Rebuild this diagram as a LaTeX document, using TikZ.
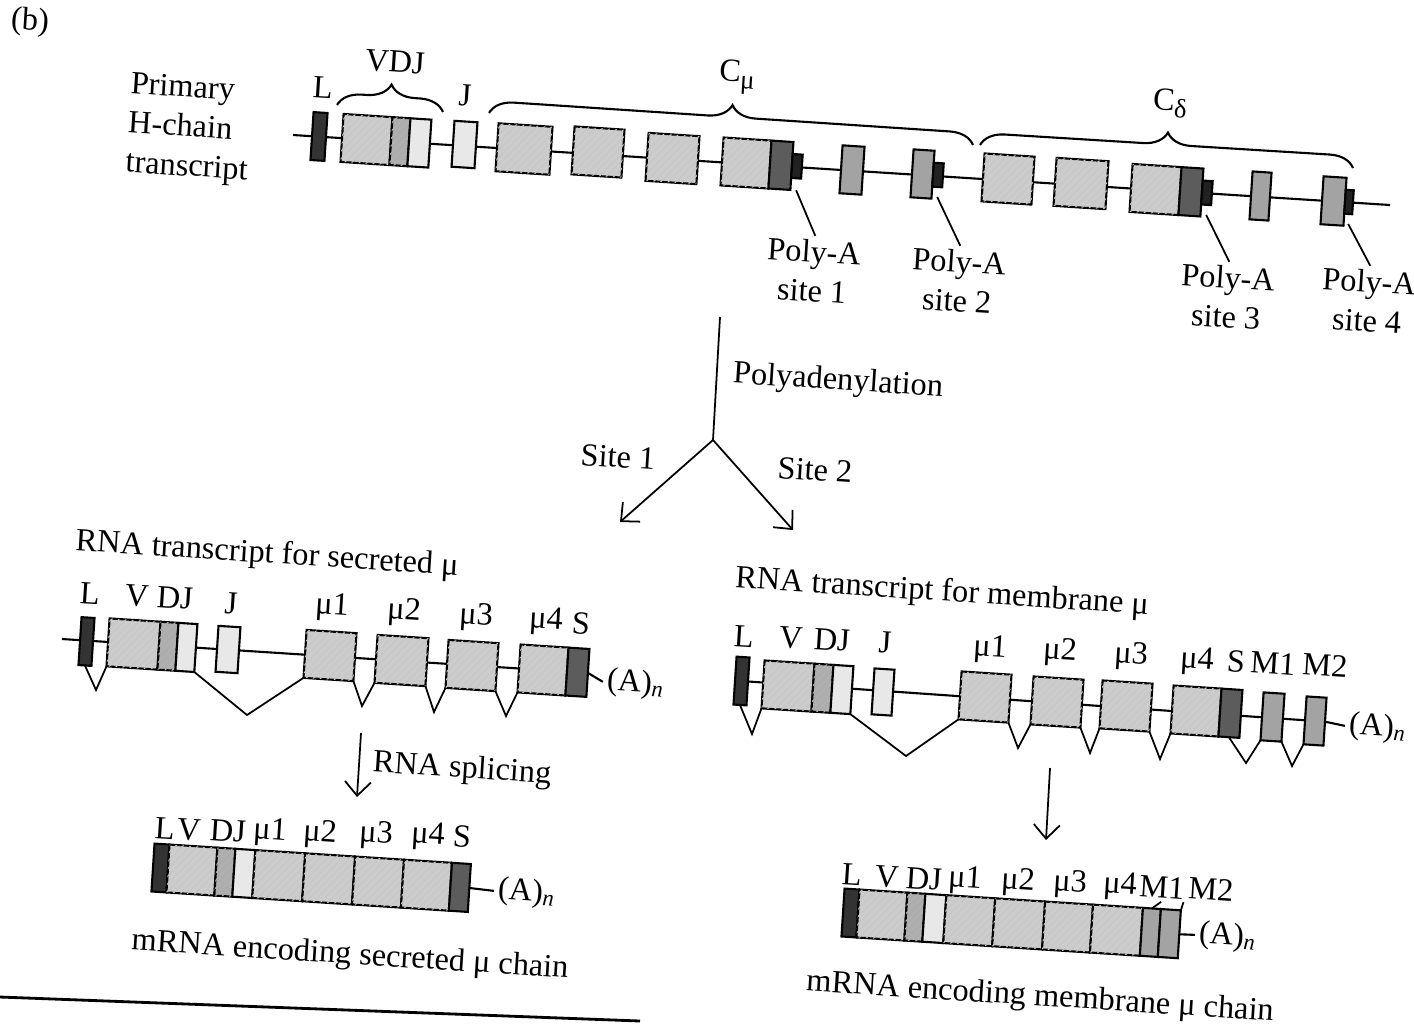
\documentclass[tikz,border=0pt]{standalone}
\usepackage{fontspec}
\setmainfont{Liberation Serif}
\usetikzlibrary{arrows.meta,decorations.pathreplacing,patterns.meta,backgrounds}

\definecolor{exgrey}{gray}{0.80}
\definecolor{dgrey}{gray}{0.68}
\definecolor{jgrey}{gray}{0.91}
\definecolor{lgrey}{gray}{0.20}
\definecolor{sgrey}{gray}{0.36}
\definecolor{mgrey}{gray}{0.64}
\definecolor{pgrey}{gray}{0.13}

\newcommand{\lowsub}[1]{\raisebox{-0.45ex}{\fontsize{7.6}{8}\selectfont #1}}

\tikzset{
  exon/.style={draw, line width=0.6pt, inner sep=0pt, outer sep=0pt, rotate=-3.7,
    minimum width=#1, minimum height=4.8mm},
  vbox/.style={exon=#1, fill=exgrey,
    postaction={pattern={Lines[angle=45,distance=1.5pt,line width=0.3pt]}, pattern color=black!22}},
  dbox/.style={exon=#1, fill=dgrey,
    postaction={pattern={Lines[angle=45,distance=1.5pt,line width=0.3pt]}, pattern color=black!30}},
  jbox/.style={exon=#1, fill=jgrey},
  lbox/.style={exon=#1, fill=lgrey},
  sbox/.style={exon=#1, fill=sgrey},
  mbox/.style={exon=#1, fill=mgrey},
  pabox/.style={exon=1mm, fill=pgrey, minimum height=2.4mm},
  lbl/.style={rotate=-3.7, inner sep=1pt},
  splice/.style={line width=0.5pt},
  brc/.style={decorate, decoration={brace, amplitude=2.4mm}, line width=0.6pt},
  arr/.style={-{Straight Barb[length=1.4mm,width=2.6mm]}, line width=0.5pt}
}

\begin{document}
\begin{tikzpicture}[x=0.1mm, y=-0.1mm, font=\fontsize{9.2}{11.2}\selectfont]
\useasboundingbox (0,0) rectangle (1414,1029);

% primary transcript
\node[lbl] (b) at (30,22) {(b)};
\node[lbl, align=left, anchor=west] (prim) at (124,125) {Primary\\H-chain\\transcript};
\coordinate (ps) at (293,135);
\coordinate (pe) at (1390,205);
\node[lbox=1.4mm] (pL) at (319,136.5) {};
\node[vbox=4.9mm] (pV) at (366.5,139.5) {};
\node[dbox=1.8mm, anchor=west] (pD) at (pV.east) {};
\node[jbox=2.1mm, anchor=west] (pJ) at (pD.east) {};
\node[jbox=2.3mm, minimum height=4.6mm] (pJx) at (464.5,144.5) {};
\node[vbox=5.4mm] (pmu1) at (524,149) {};
\node[vbox=5mm] (pmu2) at (598,152) {};
\node[vbox=5.1mm] (pmu3) at (672.5,158.5) {};
\node[vbox=4.8mm] (pmu4) at (746,163) {};
\node[sbox=2.2mm, anchor=west] (pmuS) at (pmu4.east) {};
\node[pabox, anchor=west] (pa1) at (pmuS.east) {};
\node[mbox=2.2mm] (pmuM1) at (852,170) {};
\node[mbox=2.1mm] (pmuM2) at (922.5,174) {};
\node[pabox, anchor=west] (pa2) at (pmuM2.east) {};
\node[vbox=5mm] (pd1) at (1008,179) {};
\node[vbox=5.2mm] (pd2) at (1081,183.5) {};
\node[vbox=4.9mm] (pd3) at (1155.5,189.5) {};
\node[sbox=2.2mm, anchor=west] (pdS) at (pd3.east) {};
\node[pabox, anchor=west] (pa3) at (pdS.east) {};
\node[mbox=1.9mm] (pdM1) at (1260.5,196) {};
\node[mbox=2.3mm] (pdM2) at (1333.5,201) {};
\node[pabox, anchor=west, minimum width=0.8mm] (pa4) at (pdM2.east) {};
\begin{scope}[on background layer]
\draw[line width=0.6pt] (ps) -- (pe);
\end{scope}

\node[lbl] (tL) at (323,88) {L};
\node[lbl] (tVDJ) at (395,62) {VDJ};
\node[lbl] (tJ) at (465,95) {J};
\node[lbl] (tCmu) at (737,77) {C\lowsub{μ}};
\node[lbl] (tCd) at (1170,103) {C\lowsub{δ}};
\draw[brc] (337,105) -- (443,112);
\draw[brc] (489,113) -- (973,145);
\draw[brc] (980,145) -- (1353,168);

\node[lbl, align=center] (site1) at (813,271) {Poly-A\\site 1};
\node[lbl, align=center] (site2) at (958,281) {Poly-A\\site 2};
\node[lbl, align=center] (site3) at (1227,297) {Poly-A\\site 3};
\node[lbl, align=center] (site4) at (1368,301) {Poly-A\\site 4};
\draw[splice] ([yshift=-1.2mm]pa1.south) -- (site1.north);
\draw[splice] ([yshift=-1mm]pa2.south) -- (site2.north);
\draw[splice] ([yshift=-1mm]pa3.south) -- (site3.north);
\draw[splice] ([yshift=-1mm]pa4.south) -- (site4.north);

% polyadenylation fork
\coordinate (ftop) at (720,317);
\coordinate (fork) at (713,440);
\coordinate (fl) at (620,522);
\coordinate (fr) at (793,530);
\draw[splice] (ftop) -- (fork);
\draw[arr] (fork) -- (fl);
\draw[arr] (fork) -- (fr);
\node[lbl] (poly) at (838,382) {Polyadenylation};
\node[lbl] (s1) at (618,457) {Site 1};
\node[lbl] (s2) at (815,470) {Site 2};

% secreted transcript
\node[lbl] (sec) at (267,555) {RNA transcript for secreted μ};
\coordinate (ss) at (62,639);
\node[lbox=1.3mm] (sL) at (86.5,641.5) {};
\node[vbox=5.1mm] (sV) at (133.5,644) {};
\node[dbox=1.8mm, anchor=west] (sD) at (sV.east) {};
\node[jbox=1.9mm, anchor=west] (sJ) at (sD.east) {};
\node[jbox=2.2mm, minimum height=4.6mm] (sJx) at (228,649.5) {};
\node[vbox=5mm] (smu1) at (330,655.5) {};
\node[vbox=5.1mm] (smu2) at (401.5,660.5) {};
\node[vbox=5mm] (smu3) at (472,665.5) {};
\node[vbox=4.8mm] (smu4) at (543,670) {};
\node[sbox=2.1mm, anchor=west] (sS) at (smu4.east) {};
\node[lbl] (sAn) at (636,684) {(A)\textsubscript{\itshape n}};
\begin{scope}[on background layer]
\draw[line width=0.6pt] (ss) -- (sS.east) -- (sAn.west);
\end{scope}
\coordinate (sv1) at (96,690);
\coordinate (sv2) at (247,715);
\coordinate (sv3) at (362,706);
\coordinate (sv4) at (434,712);
\coordinate (sv5) at (506,716);
\draw[splice] (sL.south) -- (sv1) -- (sV.south west);
\draw[splice] (sJ.south east) -- (sv2) -- (smu1.south west);
\draw[splice] (smu1.south east) -- (sv3) -- (smu2.south west);
\draw[splice] (smu2.south east) -- (sv4) -- (smu3.south west);
\draw[splice] (smu3.south east) -- (sv5) -- (smu4.south west);
\node[lbl] (sLt) at (90,594) {L};
\node[lbl] (sVt) at (137,596) {V};
\node[lbl] (sDJt) at (175,598) {DJ};
\node[lbl] (sJt) at (231,603) {J};
\node[lbl] (smu1t) at (332,607) {μ1};
\node[lbl] (smu2t) at (404,612) {μ2};
\node[lbl] (smu3t) at (476,617) {μ3};
\node[lbl] (smu4t) at (546,621) {μ4};
\node[lbl] (sSt) at (581,624) {S};

\coordinate (sp1) at (361,733);
\coordinate (sp2) at (357,797);
\draw[arr] (sp1) -- (sp2);
\node[lbl] (splt) at (462,770) {RNA splicing};

% secreted mRNA
\node[lbox=1.5mm, anchor=west] (mL) at (153,867.5) {};
\node[vbox=4.8mm, anchor=west] (mV) at (mL.east) {};
\node[dbox=1.8mm, anchor=west] (mD) at (mV.east) {};
\node[jbox=2mm, anchor=west] (mJ) at (mD.east) {};
\node[vbox=5mm, anchor=west] (mmu1) at (mJ.east) {};
\node[vbox=5mm, anchor=west] (mmu2) at (mmu1.east) {};
\node[vbox=4.9mm, anchor=west] (mmu3) at (mmu2.east) {};
\node[vbox=4.8mm, anchor=west] (mmu4) at (mmu3.east) {};
\node[sbox=1.9mm, anchor=west] (mS) at (mmu4.east) {};
\node[lbl] (mAn) at (527,893) {(A)\textsubscript{\itshape n}};
\draw[line width=0.6pt] (mS.east) -- (mAn.west);
\node[lbl] (mLt) at (165,829) {L};
\node[lbl] (mVt) at (189,830) {V};
\node[lbl] (mDJt) at (228,831) {DJ};
\node[lbl] (mmu1t) at (270,832) {μ1};
\node[lbl] (mmu2t) at (320,834) {μ2};
\node[lbl] (mmu3t) at (376,835) {μ3};
\node[lbl] (mmu4t) at (428,836) {μ4};
\node[lbl] (mSt) at (462,837) {S};
\node[lbl] (msec) at (350,956) {mRNA encoding secreted μ chain};

% membrane transcript
\node[lbl] (mem) at (942,593) {RNA transcript for membrane μ};
\node[lbox=1.3mm] (bL) at (741.5,681) {};
\node[vbox=5mm] (bV) at (788,686) {};
\node[dbox=1.9mm, anchor=west] (bD) at (bV.east) {};
\node[jbox=2mm, anchor=west] (bJ) at (bD.east) {};
\node[jbox=2mm, minimum height=4.6mm] (bJx) at (883,692) {};
\node[vbox=5mm] (bmu1) at (985,697) {};
\node[vbox=5mm] (bmu2) at (1057,702) {};
\node[vbox=5mm] (bmu3) at (1126,706) {};
\node[vbox=4.8mm] (bmu4) at (1196,711) {};
\node[sbox=2.1mm, anchor=west] (bS) at (bmu4.east) {};
\node[mbox=2.1mm] (bM1) at (1272.5,717) {};
\node[mbox=2mm] (bM2) at (1315,721) {};
\node[lbl] (bAn) at (1378,728) {(A)\textsubscript{\itshape n}};
\begin{scope}[on background layer]
\draw[line width=0.6pt] (bL.center) -- (bM2.east) -- (bAn.west);
\end{scope}
\coordinate (bv1) at (752,734);
\coordinate (bv2) at (906,756);
\coordinate (bv3) at (1018,748);
\coordinate (bv4) at (1090,753);
\coordinate (bv5) at (1160,759);
\coordinate (bv6) at (1246,763);
\coordinate (bv7) at (1292,766);
\draw[splice] (bL.south) -- (bv1) -- (bV.south west);
\draw[splice] (bJ.south east) -- (bv2) -- (bmu1.south west);
\draw[splice] (bmu1.south east) -- (bv3) -- (bmu2.south west);
\draw[splice] (bmu2.south east) -- (bv4) -- (bmu3.south west);
\draw[splice] (bmu3.south east) -- (bv5) -- (bmu4.south west);
\draw[splice] (bS.south) -- (bv6) -- (bM1.south west);
\draw[splice] (bM1.south east) -- (bv7) -- (bM2.south west);
\node[lbl] (bLt) at (744,637) {L};
\node[lbl] (bVt) at (791,638) {V};
\node[lbl] (bDJt) at (832,640) {DJ};
\node[lbl] (bJt) at (885,642) {J};
\node[lbl] (bmu1t) at (990,649) {μ1};
\node[lbl] (bmu2t) at (1060,652) {μ2};
\node[lbl] (bmu3t) at (1131,656) {μ3};
\node[lbl] (bmu4t) at (1197,661) {μ4};
\node[lbl] (bSt) at (1236,662) {S};
\node[lbl] (bM1t) at (1273,663) {M1};
\node[lbl] (bM2t) at (1325,665) {M2};

\coordinate (bp1) at (1050,768);
\coordinate (bp2) at (1046,840);
\draw[arr] (bp1) -- (bp2);

% membrane mRNA
\node[lbox=1.5mm, anchor=west] (nL) at (843,912.5) {};
\node[vbox=4.8mm, anchor=west] (nV) at (nL.east) {};
\node[dbox=1.8mm, anchor=west] (nD) at (nV.east) {};
\node[jbox=2.1mm, anchor=west] (nJ) at (nD.east) {};
\node[vbox=4.9mm, anchor=west] (nmu1) at (nJ.east) {};
\node[vbox=5mm, anchor=west] (nmu2) at (nmu1.east) {};
\node[vbox=4.8mm, anchor=west] (nmu3) at (nmu2.east) {};
\node[vbox=5mm, anchor=west] (nmu4) at (nmu3.east) {};
\node[mbox=1.8mm, anchor=west] (nM1) at (nmu4.east) {};
\node[mbox=2mm, anchor=west] (nM2) at (nM1.east) {};
\node[lbl] (nAn) at (1228,937) {(A)\textsubscript{\itshape n}};
\draw[line width=0.6pt] (nM2.east) -- (nAn.west);
\node[lbl] (nLt) at (852,875) {L};
\node[lbl] (nVt) at (887,877) {V};
\node[lbl] (nDJt) at (924,879) {DJ};
\node[lbl] (nmu1t) at (965,880) {μ1};
\node[lbl] (nmu2t) at (1018,882) {μ2};
\node[lbl] (nmu3t) at (1070,884) {μ3};
\node[lbl] (nmu4t) at (1120,886) {μ4};
\node[lbl] (nM1t) at (1162,887) {M1};
\node[lbl] (nM2t) at (1211,889) {M2};
\draw[splice] (nM1.north) -- (nM1t.south);
\draw[splice] (nM2.north east) -- (nM2t.south west);
\node[lbl] (nmem) at (1040,998) {mRNA encoding membrane μ chain};

% page rule
\coordinate (rule1) at (0,997);
\coordinate (rule2) at (640,1021);
\draw[line width=0.8pt] (rule1) -- (rule2);
\end{tikzpicture}
\end{document}
